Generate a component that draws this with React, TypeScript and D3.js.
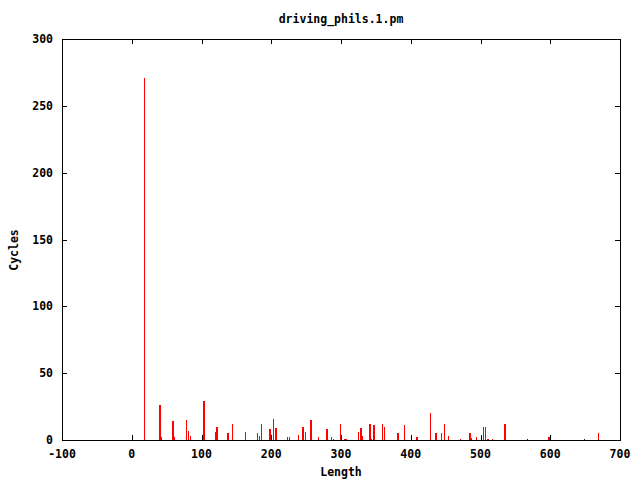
import React from "react";
import * as d3 from "d3";

const redX = [18, 39, 40, 42, 58, 59, 61, 78, 81, 83, 102, 103, 119, 121, 122, 137, 138, 144, 162,
  179, 180, 183, 185, 186, 197, 198, 202, 203, 206, 207, 223, 225, 239, 244, 245, 248, 256, 257, 267,
  279, 280, 286, 288, 299, 305, 306, 307, 324, 325, 327, 328, 330, 340, 341, 343, 346, 347, 359, 362,
  381, 382, 390, 391, 408, 409, 427, 435, 436, 443, 447, 448, 453, 454, 470, 471, 484, 485, 487,
  493, 504, 507, 510, 511, 516, 517, 534, 535, 597, 598, 668, 669];
const redY = [271, 26, 26, 2, 14, 14, 2, 15, 7, 3, 29, 29, 6, 10, 10, 5, 5, 12, 6,
  5, 5, 3, 12, 12, 8, 8, 16, 16, 9, 9, 2.5, 2.5, 4, 10, 10, 6, 15, 15, 2,
  8, 8, 2.5, 1, 12, 1, 1, 1, 6, 6, 9, 9, 3, 12, 12, 1, 11.5, 11.5, 12, 10,
  5.5, 5.5, 11.5, 11.5, 2.5, 2.5, 20.5, 5.5, 5.5, 5.5, 12, 12, 3, 3, 1, 1, 5.5, 5.5, 1.5,
  2.5, 10, 10, 1, 1, 1, 1, 12, 12, 2.5, 2.5, 5.5, 5.5];
const darkX = [567, 649];
const darkY = [1, 1];

const xTicks = [-100, 0, 100, 200, 300, 400, 500, 600, 700];
const yTicks = [0, 50, 100, 150, 200, 250, 300];

const title = "driving_phils.1.pm";
const xLabel = "Length";
const yLabel = "Cycles";

export default function App() {
  const W = 640, H = 480;
  const left = 62, right = 620, top = 39, bottom = 440;
  const x = d3.scaleLinear().domain([-100, 700]).range([left, right]);
  const y = d3.scaleLinear().domain([0, 300]).range([bottom, top]);
  const font = "'DejaVu Sans Mono', monospace";
  const tick = 5;
  const px = (v: number) => Math.round(x(v)) + 0.5;
  return (
    <svg width={W} height={H} style={{ position: "absolute", left: 0, top: 0, background: "#fff" }}>
      <rect width={W} height={H} fill="#fff" />
      <g shapeRendering="crispEdges">
        {xTicks.map((t) => (
          <g key={"xt" + t}>
            <line x1={px(t)} x2={px(t)} y1={bottom} y2={bottom - tick} stroke="#000" />
            <line x1={px(t)} x2={px(t)} y1={top} y2={top + tick} stroke="#000" />
          </g>
        ))}
        {yTicks.map((t) => (
          <g key={"yt" + t}>
            <line x1={left} x2={left + tick} y1={Math.round(y(t)) + 0.5} y2={Math.round(y(t)) + 0.5} stroke="#000" />
            <line x1={right} x2={right - tick} y1={Math.round(y(t)) + 0.5} y2={Math.round(y(t)) + 0.5} stroke="#000" />
          </g>
        ))}
        {redX.map((v, i) => (
          <line key={"r" + i} x1={px(v)} x2={px(v)} y1={bottom} y2={y(redY[i])} stroke="#ff0000" strokeWidth={1} />
        ))}
        {darkX.map((v, i) => (
          <line key={"b" + i} x1={px(v)} x2={px(v)} y1={bottom} y2={y(darkY[i])} stroke="#222" strokeWidth={1} />
        ))}
        <rect x={left + 0.5} y={top + 0.5} width={right - left} height={bottom - top} fill="none" stroke="#000" />
      </g>
      <g fontFamily={font} fontWeight="bold" fontSize={11.5} fill="#000">
        {xTicks.map((t) => (
          <text key={"xl" + t} x={x(t)} y={454} textAnchor="middle" dominantBaseline="central">{t}</text>
        ))}
        {yTicks.map((t) => (
          <text key={"yl" + t} x={53} y={y(t)} textAnchor="end" dominantBaseline="central">{t}</text>
        ))}
        <text x={341} y={19} textAnchor="middle" dominantBaseline="central">{title}</text>
        <text x={341} y={472} textAnchor="middle" dominantBaseline="central">{xLabel}</text>
        <text transform="translate(14,250) rotate(-90)" textAnchor="middle" dominantBaseline="central">{yLabel}</text>
      </g>
    </svg>
  );
}
